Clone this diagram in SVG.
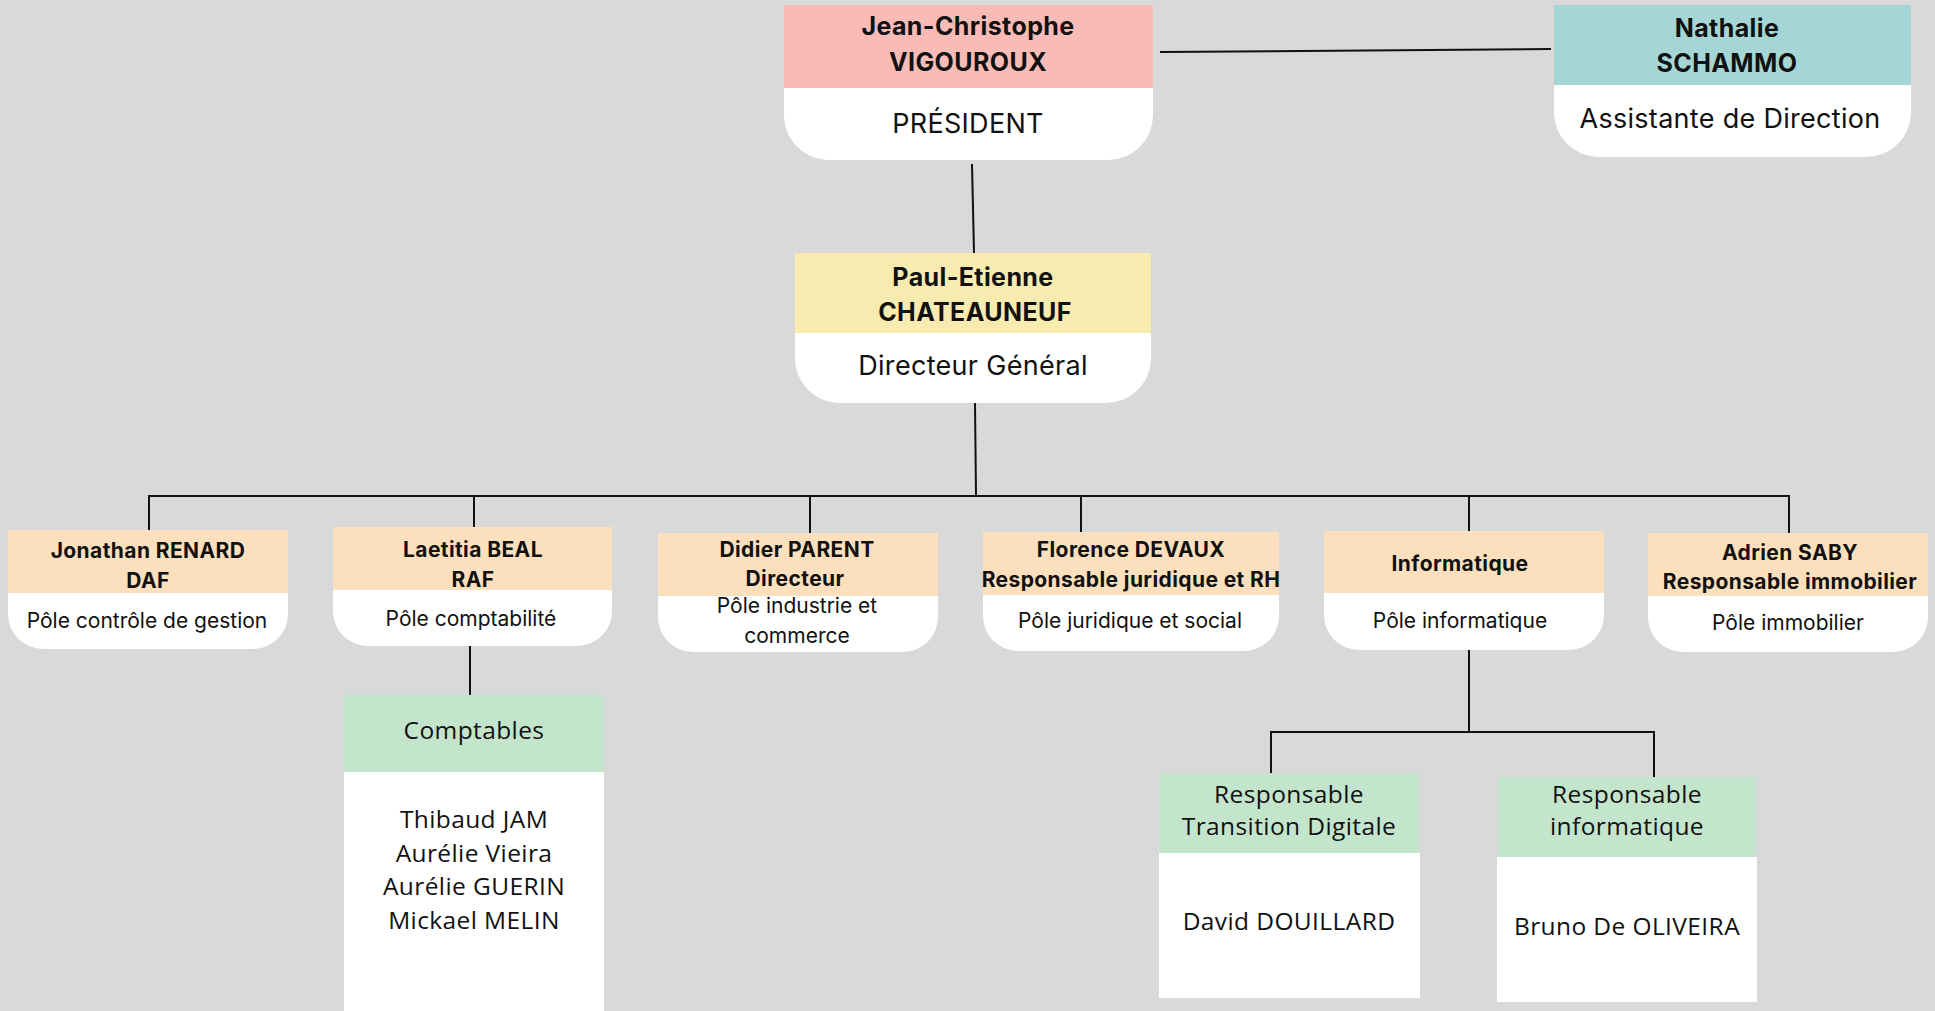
<svg xmlns="http://www.w3.org/2000/svg" width="1935" height="1011" viewBox="0 0 1935 1011">
<style>
.bg{fill:#d9d9d9}
.w{fill:#ffffff}
.pink{fill:#f9bbb5}
.teal{fill:#a5d6d5}
.yel{fill:#f8ebb0}
.peach{fill:#fce0bd}
.green{fill:#c3e5cc}
.b{font-family:Inter,Roboto,"Liberation Sans",sans-serif;font-weight:bold;fill:#111;text-anchor:middle}
.r{font-family:Inter,Roboto,"Liberation Sans",sans-serif;fill:#111;text-anchor:middle}
.c{font-family:"Open Sans","Liberation Sans",sans-serif;fill:#111;text-anchor:middle}
.t1{font-size:25px;letter-spacing:0.4px}
.t2{font-size:27px;letter-spacing:0.3px}
.t3{font-size:21px;letter-spacing:0.4px}
.t4{font-size:21px}
.t5{font-size:24.5px;letter-spacing:0.4px}
.conn{stroke:#111;stroke-width:2;fill:none}
</style>
<rect class="bg" x="0" y="0" width="1935" height="1011"/>
<g id="connectors">
<path class="conn" d="M1160 52 L1551 49"/>
<path class="conn" d="M972 164 L974 253"/>
<path class="conn" d="M975 403 L976 496"/>
<path class="conn" d="M149 530 V496 H1789 V533"/>
<path class="conn" d="M474 496 V527"/>
<path class="conn" d="M810 496 V533"/>
<path class="conn" d="M1081 496 V532"/>
<path class="conn" d="M1469 496 V531"/>
<path class="conn" d="M470 646 V695"/>
<path class="conn" d="M1469 650 V732"/>
<path class="conn" d="M1271 773 V732 H1654 V777"/>
</g>
<g id="president">
<rect class="pink" x="784" y="5" width="369" height="83"/>
<path class="w" d="M784 88 H1153 V115 A45 45 0 0 1 1108 160 H829 A45 45 0 0 1 784 115 Z"/>
<text class="b t1" x="968" y="35">Jean-Christophe</text>
<text class="b t1" x="968" y="71">VIGOUROUX</text>
<text class="r t2" x="968" y="133">PRÉSIDENT</text>
</g>
<g id="assistante">
<rect class="teal" x="1554" y="5" width="357" height="80"/>
<path class="w" d="M1554 85 H1911 V112 A45 45 0 0 1 1866 157 H1599 A45 45 0 0 1 1554 112 Z"/>
<text class="b t1" x="1727" y="37">Nathalie</text>
<text class="b t1" x="1727" y="72">SCHAMMO</text>
<text class="r t2" x="1730" y="128">Assistante de Direction</text>
</g>
<g id="dg">
<rect class="yel" x="795" y="253" width="356" height="80"/>
<path class="w" d="M795 333 H1151 V358 A45 45 0 0 1 1106 403 H840 A45 45 0 0 1 795 358 Z"/>
<text class="b t1" x="973" y="286">Paul-Etienne</text>
<text class="b t1" x="975" y="321">CHATEAUNEUF</text>
<text class="r t2" x="973" y="375">Directeur Général</text>
</g>
<g id="daf">
<rect class="peach" x="8" y="530" width="280" height="63"/>
<path class="w" d="M8 593 H288 V614 A35 35 0 0 1 253 649 H43 A35 35 0 0 1 8 614 Z"/>
<text class="b t3" x="148" y="558">Jonathan RENARD</text>
<text class="b t3" x="148" y="588">DAF</text>
<text class="r t4" x="147" y="628">Pôle contrôle de gestion</text>
</g>
<g id="raf">
<rect class="peach" x="333" y="527" width="279" height="63"/>
<path class="w" d="M333 590 H612 V611 A35 35 0 0 1 577 646 H368 A35 35 0 0 1 333 611 Z"/>
<text class="b t3" x="473" y="557">Laetitia BEAL</text>
<text class="b t3" x="473" y="587">RAF</text>
<text class="r t4" x="471" y="626">Pôle comptabilité</text>
</g>
<g id="industrie">
<rect class="peach" x="658" y="533" width="280" height="63"/>
<path class="w" d="M658 596 H938 V617 A35 35 0 0 1 903 652 H693 A35 35 0 0 1 658 617 Z"/>
<text class="b t3" x="797" y="557">Didier PARENT</text>
<text class="b t3" x="795" y="586">Directeur</text>
<text class="r t4" x="797" y="613">Pôle industrie et</text>
<text class="r t4" x="797" y="643">commerce</text>
</g>
<g id="juridique">
<rect class="peach" x="983" y="532" width="296" height="63"/>
<path class="w" d="M983 595 H1279 V616 A35 35 0 0 1 1244 651 H1018 A35 35 0 0 1 983 616 Z"/>
<text class="b t3" x="1131" y="557">Florence DEVAUX</text>
<text class="b t3" x="1131" y="587">Responsable juridique et RH</text>
<text class="r t4" x="1130" y="628">Pôle juridique et social</text>
</g>
<g id="informatique">
<rect class="peach" x="1324" y="531" width="280" height="62"/>
<path class="w" d="M1324 593 H1604 V615 A35 35 0 0 1 1569 650 H1359 A35 35 0 0 1 1324 615 Z"/>
<text class="b t3" x="1460" y="571">Informatique</text>
<text class="r t4" x="1460" y="628">Pôle informatique</text>
</g>
<g id="immobilier">
<rect class="peach" x="1648" y="533" width="280" height="63"/>
<path class="w" d="M1648 596 H1928 V617 A35 35 0 0 1 1893 652 H1683 A35 35 0 0 1 1648 617 Z"/>
<text class="b t3" x="1790" y="560">Adrien SABY</text>
<text class="b t3" x="1790" y="589">Responsable immobilier</text>
<text class="r t4" x="1788" y="630">Pôle immobilier</text>
</g>
<g id="comptables">
<rect class="w" x="344" y="772" width="260" height="250"/>
<rect class="green" x="344" y="695" width="260" height="77"/>
<text class="c t5" x="474" y="739">Comptables</text>
<text class="c t5" x="474" y="828">Thibaud JAM</text>
<text class="c t5" x="474" y="862">Aurélie Vieira</text>
<text class="c t5" x="474" y="895">Aurélie GUERIN</text>
<text class="c t5" x="474" y="929">Mickael MELIN</text>
</g>
<g id="transition">
<rect class="w" x="1159" y="853" width="261" height="145"/>
<rect class="green" x="1160" y="773" width="259" height="80"/>
<text class="c t5" x="1289" y="803">Responsable</text>
<text class="c t5" x="1289" y="835">Transition Digitale</text>
<text class="c t5" x="1289" y="930">David DOUILLARD</text>
</g>
<g id="resp-info">
<rect class="w" x="1497" y="857" width="260" height="145"/>
<rect class="green" x="1498" y="777" width="258" height="80"/>
<text class="c t5" x="1627" y="803">Responsable</text>
<text class="c t5" x="1627" y="835">informatique</text>
<text class="c t5" x="1627" y="935">Bruno De OLIVEIRA</text>
</g>
</svg>
